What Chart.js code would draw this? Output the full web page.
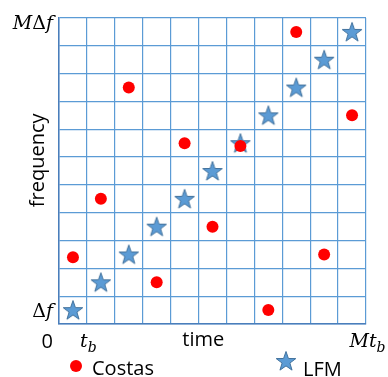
<!DOCTYPE html>
<html>
<head>
<meta charset="utf-8">
<script src="https://cdn.jsdelivr.net/npm/chart.js@4"></script>
<style>
  html, body { margin: 0; padding: 0; background: #fff; }
  #wrap { width: 388px; height: 377px; }
</style>
</head>
<body>
<div id="wrap"><canvas id="c" width="388" height="377"></canvas></div>
<script>
// ---- data (cell indices: column = time slot, row = frequency slot, 1-based) ----
const seriesNames = ['Costas', 'LFM'];
const costasCol = [1, 2, 3, 4, 5, 6, 7, 8, 9, 10, 11];
const costasRow = [2.9, 5, 9, 2, 7, 4, 6.9, 1, 11, 3, 8];
const lfmCol = [1, 2, 3, 4, 5, 6, 7, 8, 9, 10, 11];
const lfmRow = [1, 2, 3, 4, 5, 6, 7, 8, 9, 10, 11];
const gridCells = 11;
const xTickValues = [0, 1, 11];
const xTickLabels = ['0', 't_b', 'Mt_b'];
const yTickValues = [0.5, 10.85];
const yTickLabels = ['Δf', 'MΔf'];
const xTitle = 'time';
const yTitle = 'frequency';

// cell index -> cell centre on the axis
const toPts = (cols, rows) => cols.map((c, i) => ({ x: c - 0.5, y: rows[i] - 0.5 }));

// star marker image
function makeStar(R, r, fill, stroke) {
  const s = Math.ceil(2 * R + 3);
  const cv = document.createElement('canvas');
  cv.width = s; cv.height = s;
  const g = cv.getContext('2d');
  const cx = s / 2, cy = s / 2 + 0.8;
  g.beginPath();
  for (let k = 0; k < 10; k++) {
    const ang = -Math.PI / 2 + k * Math.PI / 5;
    const rad = k % 2 === 0 ? R : r;
    const px = cx + rad * Math.cos(ang), py = cy + rad * Math.sin(ang);
    if (k === 0) g.moveTo(px, py); else g.lineTo(px, py);
  }
  g.closePath();
  g.fillStyle = fill; g.fill();
  g.lineWidth = 1; g.strokeStyle = stroke; g.stroke();
  return cv;
}
const starImg = makeStar(10.3, 4.1, '#5b9bd5', '#41719c');

const SANS = '"Open Sans", "Noto Sans", sans-serif';
const SERIF = '"DejaVu Serif", serif';

function drawMath(ctx, str, x, baseline, align) {
  const size = 19, subSize = 14;
  const segs = [];
  for (let i = 0; i < str.length; i++) {
    if (str[i] === '_') { i++; segs.push({ t: str[i], sub: true }); }
    else segs.push({ t: str[i], sub: false });
  }
  const fontOf = s => {
    if (/^[0-9]$/.test(s.t)) return (s.sub ? subSize : 20) + 'px ' + SANS;
    const it = /[A-Za-z]/.test(s.t);
    return (it ? 'italic ' : '') + (s.sub ? subSize : size) + 'px ' + SERIF;
  };
  let w = 0;
  segs.forEach(s => { ctx.font = fontOf(s); s.w = ctx.measureText(s.t).width; w += s.w; });
  let cx = align === 'right' ? x - w : align === 'center' ? x - w / 2 : x;
  ctx.textAlign = 'left';
  ctx.textBaseline = 'alphabetic';
  segs.forEach(s => { ctx.font = fontOf(s); ctx.fillText(s.t, cx, baseline + (s.sub ? 5 : 0)); cx += s.w; });
}

const textPlugin = {
  id: 'textPlugin',
  afterDraw(chart) {
    const ctx = chart.ctx;
    const xs = chart.scales.x, ys = chart.scales.y;
    const area = chart.chartArea;
    ctx.save();
    ctx.fillStyle = '#000';
    // x tick labels
    xTickValues.forEach((v, i) => {
      const px = xs.getPixelForValue(v);
      if (v === xs.min) drawMath(ctx, xTickLabels[i], area.left - 6, area.bottom + 24, 'right');
      else drawMath(ctx, xTickLabels[i], px + 1.5, area.bottom + 23, 'center');
    });
    // y tick labels
    yTickValues.forEach((v, i) => {
      const py = ys.getPixelForValue(v);
      drawMath(ctx, yTickLabels[i], area.left - 6, py + 6.5, 'right');
    });
    // axis titles
    ctx.font = '20px ' + SANS;
    ctx.textAlign = 'center';
    ctx.textBaseline = 'alphabetic';
    ctx.fillText(xTitle, area.left + (area.right - area.left) * 0.47, area.bottom + 22);
    ctx.save();
    ctx.translate(area.left - 15, area.top + (area.bottom - area.top) * 0.465);
    ctx.rotate(-Math.PI / 2);
    ctx.fillText(yTitle, 0, 0);
    ctx.restore();
    // legend
    const ds = chart.data.datasets;
    ctx.beginPath();
    ctx.arc(76, 366, 6, 0, Math.PI * 2);
    ctx.fillStyle = ds[0].backgroundColor;
    ctx.fill();
    ctx.fillStyle = '#000';
    ctx.textAlign = 'left';
    ctx.fillText(ds[0].label, 92, 375);
    ctx.drawImage(starImg, 286 - starImg.width / 2, 361 - starImg.height / 2);
    ctx.fillText(ds[1].label, 303, 376);
    ctx.restore();
  }
};

new Chart(document.getElementById('c'), {
  type: 'scatter',
  data: {
    datasets: [
      {
        label: seriesNames[0],
        data: toPts(costasCol, costasRow),
        pointStyle: 'circle',
        pointRadius: 6,
        pointHoverRadius: 6,
        backgroundColor: '#ff0000',
        borderWidth: 0
      },
      {
        label: seriesNames[1],
        data: toPts(lfmCol, lfmRow),
        pointStyle: starImg,
        pointRadius: 10,
        backgroundColor: '#5b9bd5',
        borderColor: '#41719c'
      }
    ]
  },
  options: {
    responsive: false,
    animation: false,
    layout: { padding: { left: 59, top: 18, right: 22, bottom: 53 } },
    plugins: { legend: { display: false }, tooltip: { enabled: false } },
    scales: {
      x: {
        type: 'linear', min: 0, max: gridCells,
        ticks: { display: false, stepSize: 1 },
        grid: { color: '#5b9bd5', lineWidth: 1.2, drawTicks: false },
        border: { color: '#4a7ebb', width: 1.5 }
      },
      y: {
        type: 'linear', min: 0, max: gridCells,
        ticks: { display: false, stepSize: 1 },
        grid: { color: '#5b9bd5', lineWidth: 1.2, drawTicks: false },
        border: { color: '#4a7ebb', width: 1.5 }
      }
    }
  },
  plugins: [textPlugin]
});
</script>
</body>
</html>
